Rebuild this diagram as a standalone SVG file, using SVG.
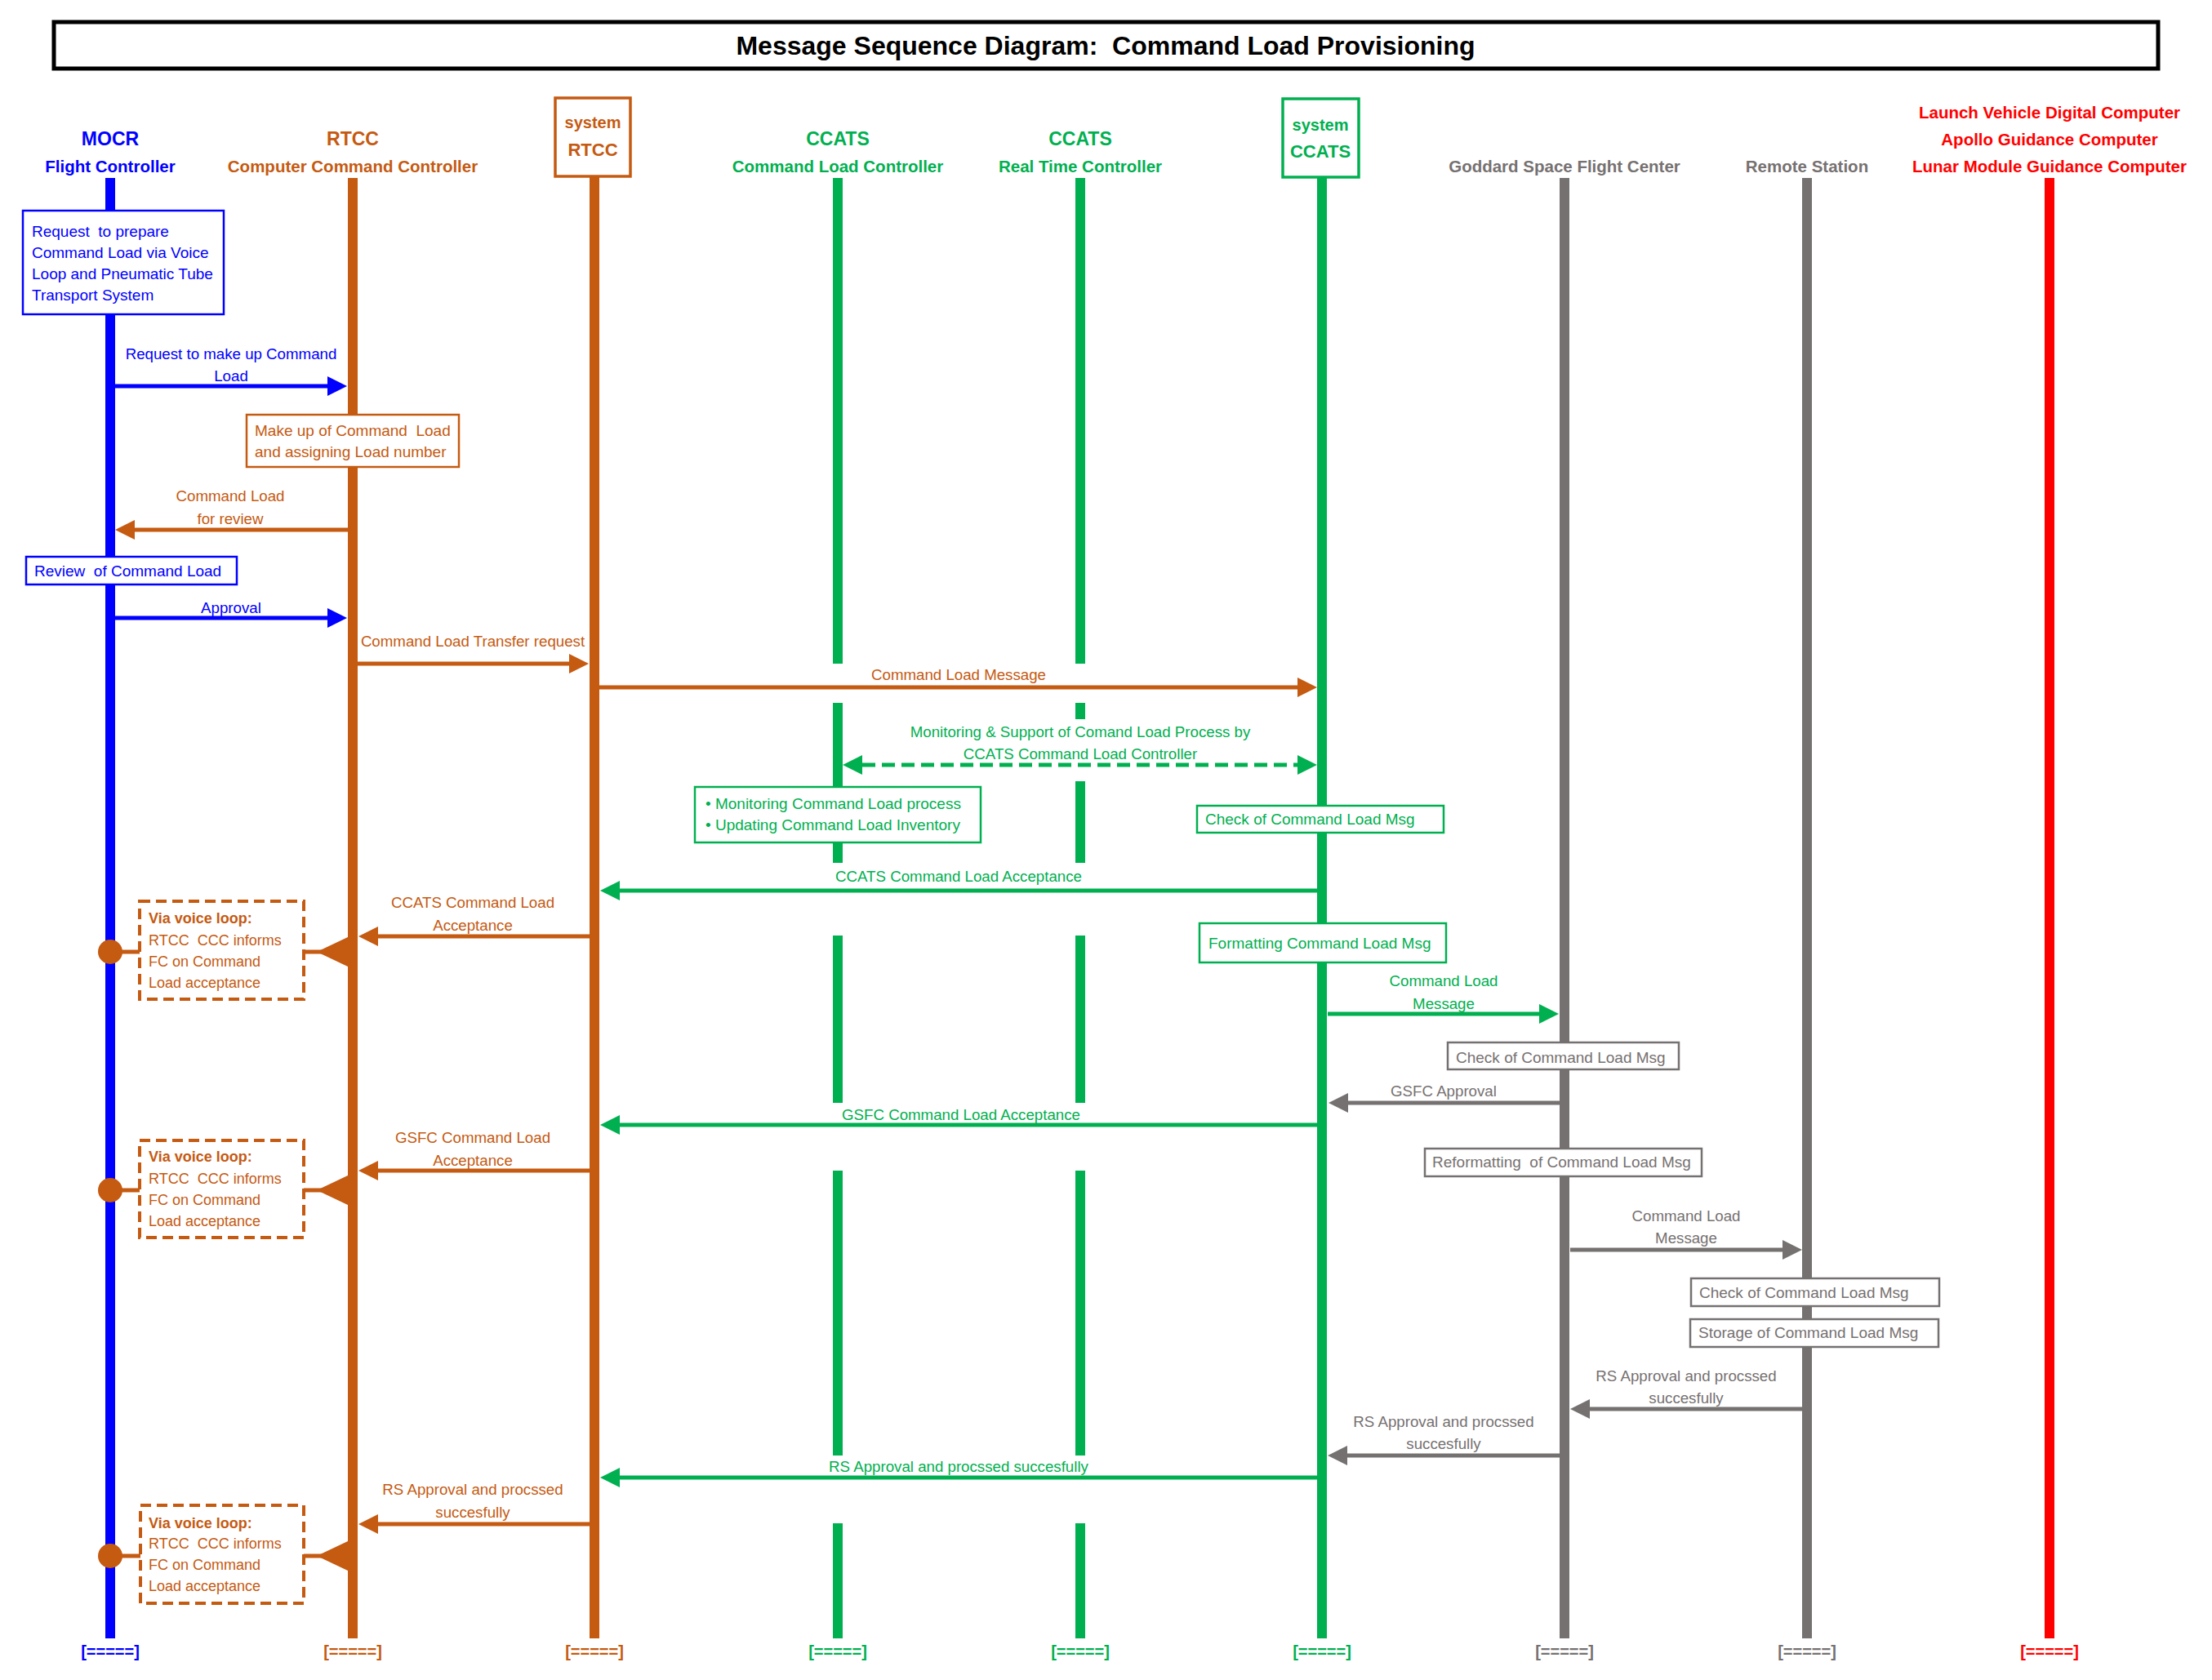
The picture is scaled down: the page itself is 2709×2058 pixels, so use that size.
<svg xmlns="http://www.w3.org/2000/svg" width="2709" height="2058" viewBox="0 0 2709 2058">
<style>
text{font-family:"Liberation Sans",Arial,Helvetica,sans-serif}
.hd{font-weight:bold;font-size:20.5px;text-anchor:middle}
.hdl{font-weight:bold;font-size:23px;text-anchor:middle}
.sy{font-weight:bold;font-size:20px;text-anchor:middle}
.syb{font-weight:bold;font-size:22px;text-anchor:middle}
.lbl{font-size:18.7px;text-anchor:middle}
.nt{font-size:19px}
.vt{font-size:18px;fill:#C55A11}
.vb{font-weight:bold}
.bt{font-size:20px;font-weight:bold;text-anchor:middle}
.cb{fill:#0000FF}.co{fill:#C55A11}.cg{fill:#00B050}.cy{fill:#767171}.cr{fill:#FF0000}
.ll{stroke-width:12;fill:none}
.sb{stroke:#0000FF}.so{stroke:#C55A11}.sg{stroke:#00B050}.sy2{stroke:#767171}.sr{stroke:#FF0000}
.msg{stroke-width:5;fill:none}
.box{fill:#fff;stroke-width:2.5}
.sysbox{fill:#fff;stroke-width:3.5}
.vbox{fill:#fff;stroke:#C55A11;stroke-width:4;stroke-dasharray:13 7}
</style>
<defs>
<marker id="ab" viewBox="0 -12 24 24" refX="0" refY="0" markerWidth="24" markerHeight="24" markerUnits="userSpaceOnUse" orient="auto"><path d="M0,-12 L24,0 L0,12 z" fill="#0000FF"/></marker>
<marker id="ao" viewBox="0 -12 24 24" refX="0" refY="0" markerWidth="24" markerHeight="24" markerUnits="userSpaceOnUse" orient="auto"><path d="M0,-12 L24,0 L0,12 z" fill="#C55A11"/></marker>
<marker id="ag" viewBox="0 -12 24 24" refX="0" refY="0" markerWidth="24" markerHeight="24" markerUnits="userSpaceOnUse" orient="auto-start-reverse"><path d="M0,-12 L24,0 L0,12 z" fill="#00B050"/></marker>
<marker id="ay" viewBox="0 -12 24 24" refX="0" refY="0" markerWidth="24" markerHeight="24" markerUnits="userSpaceOnUse" orient="auto"><path d="M0,-12 L24,0 L0,12 z" fill="#767171"/></marker>
</defs>
<rect width="2709" height="2058" fill="#fff"/>

<g id="title">
<rect x="66" y="27" width="2577" height="57" fill="none" stroke="#000" stroke-width="5"/>
<text x="1354" y="67" xml:space="preserve" style="font-weight:bold;font-size:32px;text-anchor:middle">Message Sequence Diagram:  Command Load Provisioning</text>
</g>

<g id="mocr">
<text class="hdl cb" x="135" y="178">MOCR</text>
<text class="hd cb" x="135" y="211">Flight Controller</text>
<line class="ll sb" x1="135" y1="218" x2="135" y2="2007"/>
<text class="bt cb" x="135" y="2030">[=====]</text>
</g>
<g id="rtcc">
<text class="hdl co" x="432" y="178">RTCC</text>
<text class="hd co" x="432" y="211">Computer Command Controller</text>
<line class="ll so" x1="432" y1="218" x2="432" y2="2007"/>
<text class="bt co" x="432" y="2030">[=====]</text>
</g>
<g id="system-rtcc">
<line class="ll so" x1="728" y1="216" x2="728" y2="2007"/>
<rect class="sysbox so" x="680" y="120" width="92" height="96"/>
<text class="sy co" x="726" y="157">system</text>
<text class="syb co" x="726" y="191">RTCC</text>
<text class="bt co" x="728" y="2030">[=====]</text>
</g>
<g id="ccats-clc">
<text class="hdl cg" x="1026" y="178">CCATS</text>
<text class="hd cg" x="1026" y="211">Command Load Controller</text>
<path class="ll sg" d="M1026,218V813M1026,861V1057M1026,1146V1351M1026,1434V1783M1026,1866V2007"/>
<text class="bt cg" x="1026" y="2030">[=====]</text>
</g>
<g id="ccats-rtc">
<text class="hdl cg" x="1323" y="178">CCATS</text>
<text class="hd cg" x="1323" y="211">Real Time Controller</text>
<path class="ll sg" d="M1323,218V813M1323,861V881M1323,957V1057M1323,1146V1351M1323,1434V1783M1323,1866V2007"/>
<text class="bt cg" x="1323" y="2030">[=====]</text>
</g>
<g id="system-ccats">
<line class="ll sg" x1="1619" y1="218" x2="1619" y2="2007"/>
<rect class="sysbox sg" x="1571" y="121" width="93" height="96"/>
<text class="sy cg" x="1617" y="160">system</text>
<text class="syb cg" x="1617" y="193">CCATS</text>
<text class="bt cg" x="1619" y="2030">[=====]</text>
</g>
<g id="gsfc">
<text class="hd cy" x="1916" y="211">Goddard Space Flight Center</text>
<line class="ll sy2" x1="1916" y1="218" x2="1916" y2="2007"/>
<text class="bt cy" x="1916" y="2030">[=====]</text>
</g>
<g id="remote-station">
<text class="hd cy" x="2213" y="211">Remote Station</text>
<line class="ll sy2" x1="2213" y1="218" x2="2213" y2="2007"/>
<text class="bt cy" x="2213" y="2030">[=====]</text>
</g>
<g id="onboard-computers">
<text class="hd cr" x="2510" y="145">Launch Vehicle Digital Computer</text>
<text class="hd cr" x="2510" y="178">Apollo Guidance Computer</text>
<text class="hd cr" x="2510" y="211">Lunar Module Guidance Computer</text>
<line class="ll sr" x1="2510" y1="218" x2="2510" y2="2007"/>
<text class="bt cr" x="2510" y="2030">[=====]</text>
</g>

<g id="connectors">
<line class="msg sb" x1="141" y1="473" x2="401" y2="473" marker-end="url(#ab)"/>
<text class="lbl cb" x="283" y="440">Request to make up Command</text>
<text class="lbl cb" x="283" y="467">Load</text>

<line class="msg so" x1="426" y1="649" x2="165" y2="649" marker-end="url(#ao)"/>
<text class="lbl co" x="282" y="614">Command Load</text>
<text class="lbl co" x="282" y="642">for review</text>

<line class="msg sb" x1="141" y1="757" x2="401" y2="757" marker-end="url(#ab)"/>
<text class="lbl cb" x="283" y="751">Approval</text>

<line class="msg so" x1="438" y1="813" x2="697" y2="813" marker-end="url(#ao)"/>
<text class="lbl co" x="579" y="792">Command Load Transfer request</text>

<line class="msg so" x1="734" y1="842" x2="1589" y2="842" marker-end="url(#ao)"/>
<text class="lbl co" x="1174" y="833">Command Load Message</text>

<line class="msg sg" x1="1056" y1="937" x2="1589" y2="937" stroke-dasharray="16 8" marker-start="url(#ag)" marker-end="url(#ag)"/>
<text class="lbl cg" x="1323" y="903">Monitoring &amp; Support of Comand Load Process by</text>
<text class="lbl cg" x="1323" y="930">CCATS Command Load Controller</text>

<line class="msg sg" x1="1613" y1="1091" x2="759" y2="1091" marker-end="url(#ag)"/>
<text class="lbl cg" x="1174" y="1080">CCATS Command Load Acceptance</text>

<line class="msg so" x1="722" y1="1147" x2="463" y2="1147" marker-end="url(#ao)"/>
<text class="lbl co" x="579" y="1112">CCATS Command Load</text>
<text class="lbl co" x="579" y="1140">Acceptance</text>

<line class="msg so" x1="135" y1="1166" x2="400" y2="1166"/>
<polygon class="co" points="388,1166 428,1147 428,1185"/>
<circle class="co" cx="135" cy="1166" r="15"/>

<line class="msg sg" x1="1626" y1="1242" x2="1885" y2="1242" marker-end="url(#ag)"/>
<text class="lbl cg" x="1768" y="1208">Command Load</text>
<text class="lbl cg" x="1768" y="1236">Message</text>

<line class="msg sy2" x1="1910" y1="1351" x2="1651" y2="1351" marker-end="url(#ay)"/>
<text class="lbl cy" x="1768" y="1343">GSFC Approval</text>

<line class="msg sg" x1="1613" y1="1378" x2="759" y2="1378" marker-end="url(#ag)"/>
<text class="lbl cg" x="1177" y="1372">GSFC Command Load Acceptance</text>

<line class="msg so" x1="722" y1="1434" x2="463" y2="1434" marker-end="url(#ao)"/>
<text class="lbl co" x="579" y="1400">GSFC Command Load</text>
<text class="lbl co" x="579" y="1428">Acceptance</text>

<line class="msg so" x1="135" y1="1458" x2="400" y2="1458"/>
<polygon class="co" points="388,1458 428,1439 428,1477"/>
<circle class="co" cx="135" cy="1458" r="15"/>

<line class="msg sy2" x1="1923" y1="1531" x2="2183" y2="1531" marker-end="url(#ay)"/>
<text class="lbl cy" x="2065" y="1496">Command Load</text>
<text class="lbl cy" x="2065" y="1523">Message</text>

<line class="msg sy2" x1="2207" y1="1726" x2="1947" y2="1726" marker-end="url(#ay)"/>
<text class="lbl cy" x="2065" y="1692">RS Approval and procssed</text>
<text class="lbl cy" x="2065" y="1719">succesfully</text>

<line class="msg sy2" x1="1910" y1="1783" x2="1650" y2="1783" marker-end="url(#ay)"/>
<text class="lbl cy" x="1768" y="1748">RS Approval and procssed</text>
<text class="lbl cy" x="1768" y="1775">succesfully</text>

<line class="msg sg" x1="1613" y1="1810" x2="759" y2="1810" marker-end="url(#ag)"/>
<text class="lbl cg" x="1174" y="1803">RS Approval and procssed succesfully</text>

<line class="msg so" x1="722" y1="1867" x2="463" y2="1867" marker-end="url(#ao)"/>
<text class="lbl co" x="579" y="1831">RS Approval and procssed</text>
<text class="lbl co" x="579" y="1859">succesfully</text>

<line class="msg so" x1="135" y1="1906" x2="400" y2="1906"/>
<polygon class="co" points="388,1906 428,1887 428,1925"/>
<circle class="co" cx="135" cy="1906" r="15"/>
</g>

<g id="note-request-prepare">
<rect class="box sb" x="28" y="258" width="246" height="127"/>
<text class="nt cb" x="39" y="290" xml:space="preserve">Request  to prepare</text>
<text class="nt cb" x="39" y="316">Command Load via Voice</text>
<text class="nt cb" x="39" y="342">Loop and Pneumatic Tube</text>
<text class="nt cb" x="39" y="368">Transport System</text>
</g>
<g id="note-make-up">
<rect class="box so" x="302" y="508" width="260" height="64"/>
<text class="nt co" x="312" y="534" xml:space="preserve">Make up of Command  Load</text>
<text class="nt co" x="312" y="560">and assigning Load number</text>
</g>
<g id="note-review">
<rect class="box sb" x="32" y="682" width="258" height="34"/>
<text class="nt cb" x="42" y="706" xml:space="preserve">Review  of Command Load</text>
</g>
<g id="note-monitoring">
<rect class="box sg" x="851" y="964" width="350" height="68"/>
<text class="nt cg" x="864" y="991">• Monitoring Command Load process</text>
<text class="nt cg" x="864" y="1017">• Updating Command Load Inventory</text>
</g>
<g id="note-ccats-check">
<rect class="box sg" x="1466" y="987" width="302" height="33"/>
<text class="nt cg" x="1476" y="1010">Check of Command Load Msg</text>
</g>
<g id="note-ccats-formatting">
<rect class="box sg" x="1469" y="1131" width="302" height="48"/>
<text class="nt cg" x="1480" y="1162">Formatting Command Load Msg</text>
</g>
<g id="note-gsfc-check">
<rect class="box sy2" x="1773" y="1277" width="283" height="33"/>
<text class="nt cy" x="1783" y="1302">Check of Command Load Msg</text>
</g>
<g id="note-gsfc-reformatting">
<rect class="box sy2" x="1745" y="1407" width="339" height="34"/>
<text class="nt cy" x="1754" y="1430" xml:space="preserve">Reformatting  of Command Load Msg</text>
</g>
<g id="note-rs-check">
<rect class="box sy2" x="2071" y="1566" width="304" height="34"/>
<text class="nt cy" x="2081" y="1590">Check of Command Load Msg</text>
</g>
<g id="note-rs-storage">
<rect class="box sy2" x="2070" y="1616" width="304" height="34"/>
<text class="nt cy" x="2080" y="1639">Storage of Command Load Msg</text>
</g>
<g id="voice-loop-1">
<rect class="vbox" x="171" y="1104" width="201" height="120"/>
<text class="vt vb" x="182" y="1131">Via voice loop:</text>
<text class="vt" x="182" y="1158" xml:space="preserve">RTCC  CCC informs</text>
<text class="vt" x="182" y="1184">FC on Command</text>
<text class="vt" x="182" y="1210">Load acceptance</text>
</g>
<g id="voice-loop-2">
<rect class="vbox" x="171" y="1397" width="201" height="119"/>
<text class="vt vb" x="182" y="1423">Via voice loop:</text>
<text class="vt" x="182" y="1450" xml:space="preserve">RTCC  CCC informs</text>
<text class="vt" x="182" y="1476">FC on Command</text>
<text class="vt" x="182" y="1502">Load acceptance</text>
</g>
<g id="voice-loop-3">
<rect class="vbox" x="172" y="1844" width="200" height="120"/>
<text class="vt vb" x="182" y="1872">Via voice loop:</text>
<text class="vt" x="182" y="1897" xml:space="preserve">RTCC  CCC informs</text>
<text class="vt" x="182" y="1923">FC on Command</text>
<text class="vt" x="182" y="1949">Load acceptance</text>
</g>
</svg>
